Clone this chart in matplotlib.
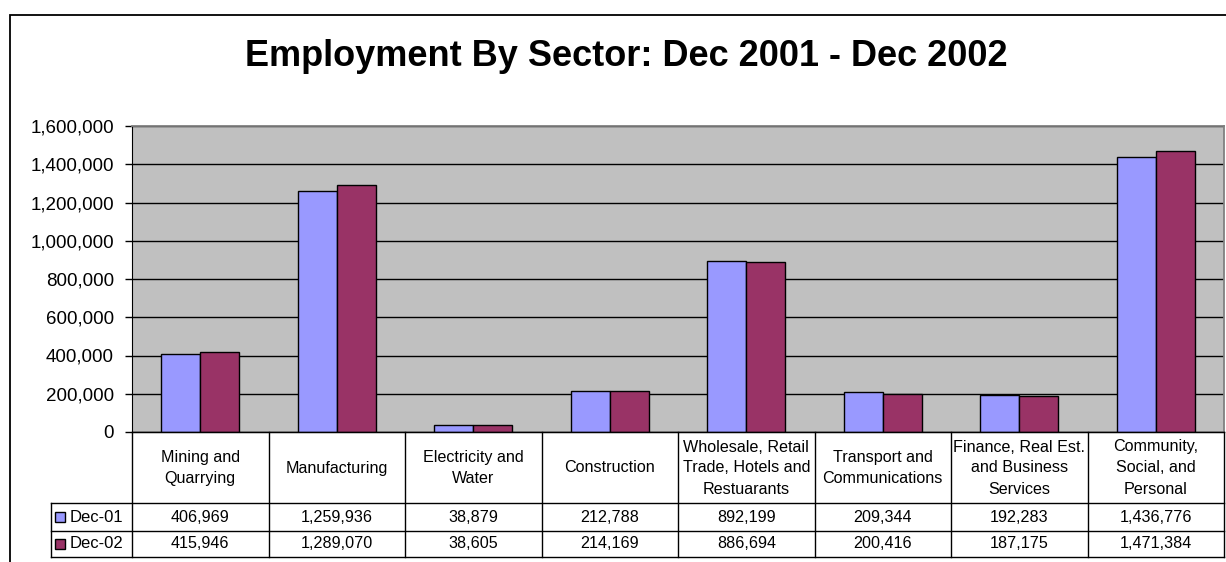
import matplotlib
matplotlib.use("Agg")
import matplotlib.pyplot as plt
from matplotlib.patches import Rectangle
from matplotlib.lines import Line2D
from matplotlib.ticker import FuncFormatter, MultipleLocator

plt.rcParams['font.family'] = ['Liberation Sans', 'DejaVu Sans']

title = "Employment By Sector: Dec 2001 - Dec 2002"
sectors = [
    "Mining and\nQuarrying",
    "Manufacturing",
    "Electricity and\nWater",
    "Construction",
    "Wholesale, Retail\nTrade, Hotels and\nRestuarants",
    "Transport and\nCommunications",
    "Finance, Real Est.\nand Business\nServices",
    "Community,\nSocial, and\nPersonal",
]
series_names = ["Dec-01", "Dec-02"]
dec01 = [406969, 1259936, 38879, 212788, 892199, 209344, 192283, 1436776]
dec02 = [415946, 1289070, 38605, 214169, 886694, 200416, 187175, 1471384]
colors = ["#9999FF", "#993366"]

W, H = 1226, 562
fig = plt.figure(figsize=(W / 100, H / 100), dpi=100)

def fx(px):
    return px / W

def fy(py):
    return 1 - py / H

# outer chart border
fig.add_artist(Rectangle((fx(10), fy(H + 5)), fx(W + 20), fy(15) - fy(H + 5),
                         fill=False, edgecolor="black", lw=1.3,
                         transform=fig.transFigure))

fig.text(fx(626), fy(56), title, ha="center", va="center",
         fontsize=26, fontweight="bold")

# plot area
x0, x1 = 132, 1224
ytop, ybot = 126, 432
ax = fig.add_axes([fx(x0), fy(ybot), fx(x1) - fx(x0), fy(ytop) - fy(ybot)])
ax.set_facecolor("#C0C0C0")
n = len(sectors)
bw = 1 / 3.5
for i in range(n):
    ax.bar(i - bw / 2, dec01[i], width=bw, color=colors[0],
           edgecolor="black", lw=1.0, zorder=3)
    ax.bar(i + bw / 2, dec02[i], width=bw, color=colors[1],
           edgecolor="black", lw=1.0, zorder=3)
ax.set_xlim(-0.5, n - 0.5)
ax.set_ylim(0, 1600000)
ax.yaxis.set_major_locator(MultipleLocator(200000))
ax.yaxis.set_major_formatter(FuncFormatter(lambda v, p: f"{int(v):,}"))
ax.grid(axis="y", color="black", lw=1.0, zorder=1)
ax.set_xticks([])
ax.tick_params(axis="y", length=5, width=1, labelsize=13.5, pad=8, direction="out")
for s in ("top", "right"):
    ax.spines[s].set_color("#808080")
    ax.spines[s].set_linewidth(1.3)
ax.spines["bottom"].set_color("black")
ax.spines["left"].set_color("black")

# data table
lab_x0 = 51
row_y = [432, 503, 531, 557]
colw = (x1 - x0) / n
tbl_lw = 1.0

def hline(xa, xb, y):
    fig.add_artist(Line2D([fx(xa), fx(xb)], [fy(y), fy(y)], color="black",
                          lw=tbl_lw, transform=fig.transFigure))

def vline(x, ya, yb):
    fig.add_artist(Line2D([fx(x), fx(x)], [fy(ya), fy(yb)], color="black",
                          lw=tbl_lw, transform=fig.transFigure))

hline(x0, x1, row_y[0])
for y in row_y[1:]:
    hline(lab_x0, x1, y)
vline(lab_x0, row_y[1], row_y[3])
for k in range(n + 1):
    vline(x0 + k * colw, row_y[0], row_y[3])

for i, name in enumerate(sectors):
    cx = x0 + (i + 0.5) * colw
    fig.text(fx(cx), fy((row_y[0] + row_y[1]) / 2 + 0.5), name, ha="center",
             va="center", fontsize=11.6, linespacing=1.5)
    for r, vals in enumerate((dec01, dec02)):
        fig.text(fx(cx), fy((row_y[r + 1] + row_y[r + 2]) / 2), f"{vals[i]:,}",
                 ha="center", va="center", fontsize=11.6)

# legend keys inside the row-label cells
for r, name in enumerate(series_names):
    yc = (row_y[r + 1] + row_y[r + 2]) / 2
    fig.add_artist(Rectangle((fx(55), fy(yc + 5)), fx(10), fy(yc - 5) - fy(yc + 5),
                             facecolor=colors[r], edgecolor="black", lw=1.0,
                             transform=fig.transFigure))
    fig.text(fx(70), fy(yc), name, ha="left", va="center", fontsize=12)

fig.savefig("out.png", dpi=100)
